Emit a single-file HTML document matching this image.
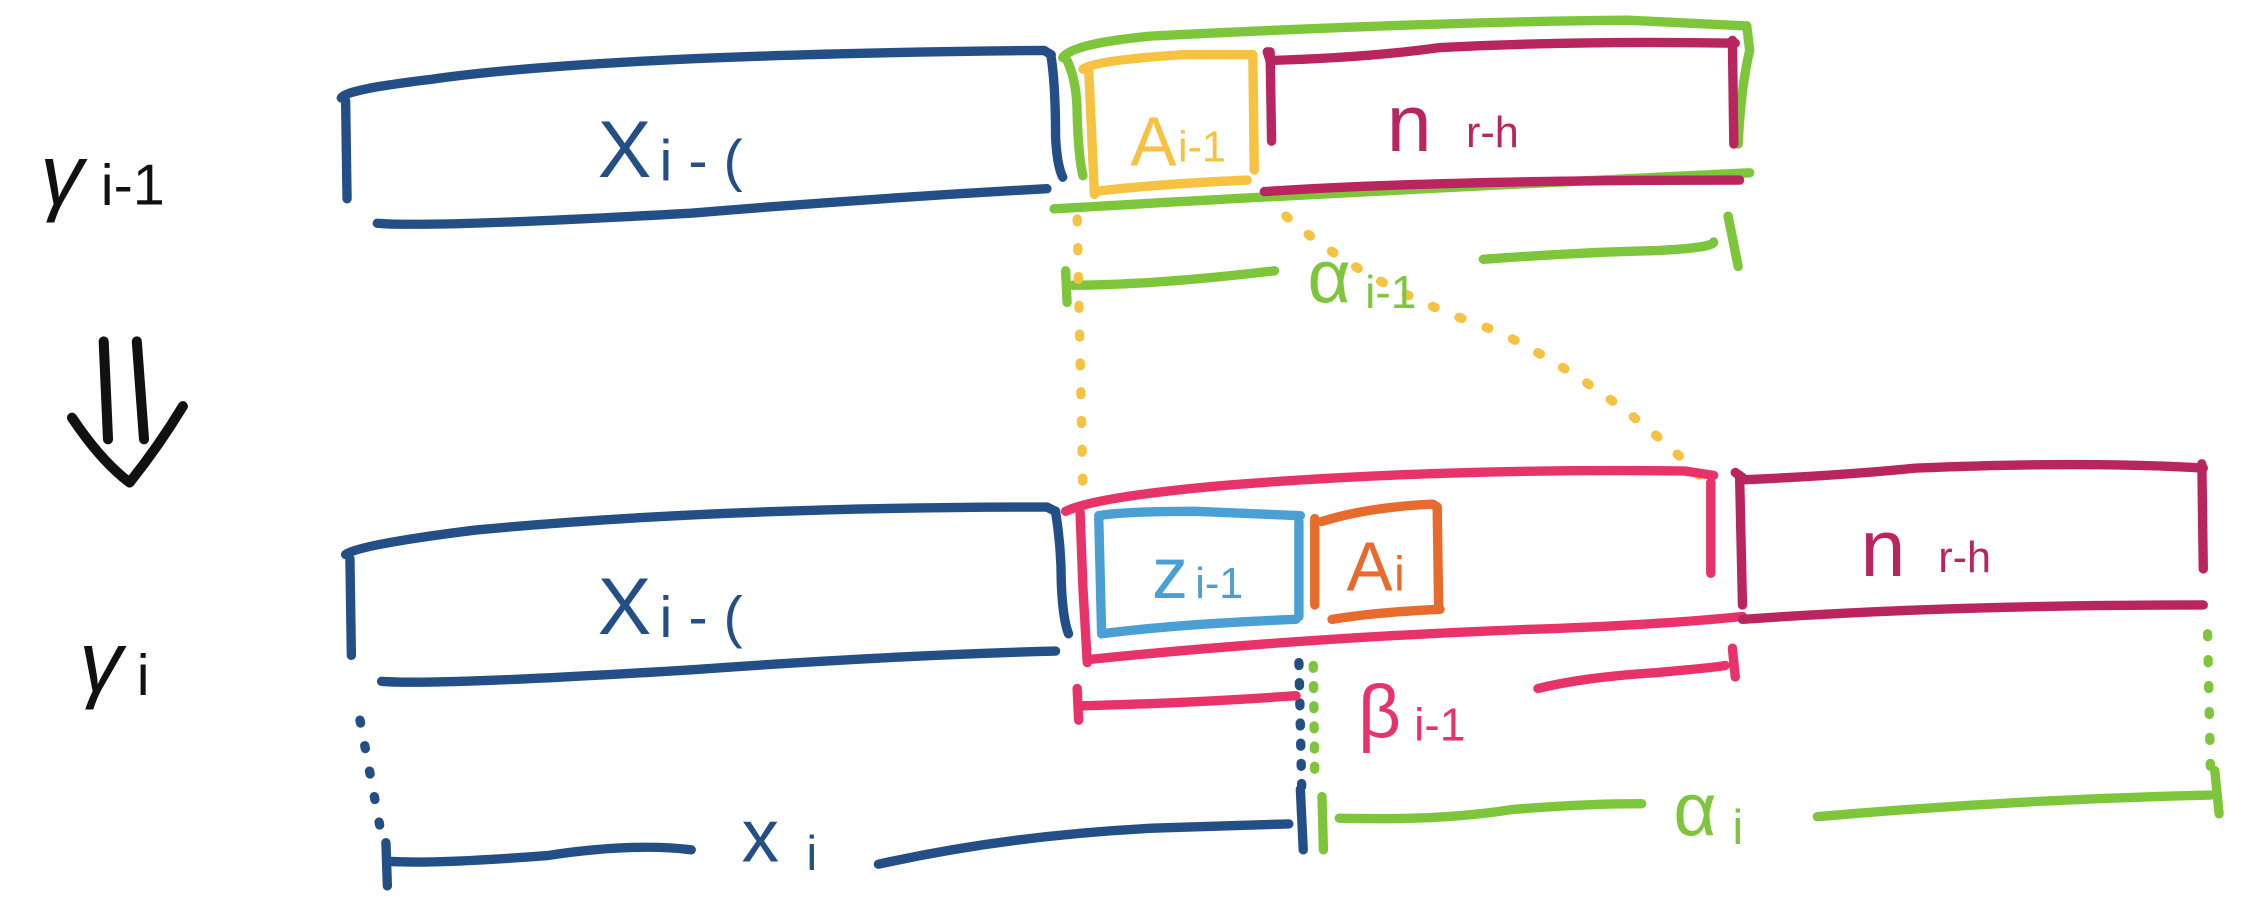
<!DOCTYPE html>
<html><head><meta charset="utf-8"><style>
html,body{margin:0;padding:0;background:#fff;}
svg{display:block}
text{font-family:"Liberation Sans",sans-serif;}
</style></head><body>
<svg width="2258" height="906" viewBox="0 0 1568 629" preserveAspectRatio="none" xmlns="http://www.w3.org/2000/svg">
<g fill="none" stroke-linecap="round" stroke-linejoin="round" stroke-width="6.5">
<g stroke="#234f86">
<path d="M237,68 Q240,62 300,55 Q420,38 725,35 L730,38"/>
<path d="M240,70 L241,138"/>
<path d="M262,155 Q300,158 480,148 Q600,138 727,131"/>
<path d="M730,40 Q733,60 733,95 Q734,115 738,123"/>
</g>
<g stroke="#7dc63c">
<path d="M738,40 Q745,30 800,25 Q1000,15 1130,14 L1213,18"/>
<path d="M1213,18 L1215,35 Q1209,60 1207,100"/>
<path d="M732,145 Q900,135 1215,120"/>
<path d="M740,40 Q748,55 748,80 Q749,110 752,122"/>
<path d="M740,188 L741,210"/>
<path d="M745,198 Q800,198 885,188"/>
<path d="M1030,180 Q1100,175 1150,174 Q1190,172 1190,168"/>
<path d="M1200,150 L1207,185"/>
</g>
<g stroke="#f5c242">
<path d="M752,48 Q760,42 820,38 L870,38"/>
<path d="M756,48 L760,135"/>
<path d="M870,40 L871,118"/>
<path d="M760,133 Q800,128 866,125"/>
<path d="M748,152 L752,340" stroke-dasharray="2 18"/>
<path d="M893,150 Q950,200 1040,230 Q1120,270 1180,330" stroke-dasharray="2 18"/>
</g>
<g stroke="#b8255f">
<path d="M880,36 L882,42 Q950,40 1000,33 Q1100,28 1205,30"/>
<path d="M882,36 L883,98"/>
<path d="M1203,28 L1204,100"/>
<path d="M878,133 Q1000,125 1208,125"/>
</g>
<g stroke="#234f86">
<path d="M240,385 Q250,378 330,368 Q500,352 727,352 L733,355"/>
<path d="M243,388 L244,455"/>
<path d="M265,473 Q300,476 480,465 Q620,455 733,452"/>
<path d="M733,355 Q737,380 737,405 Q738,430 742,440"/>
<path d="M250,500 L265,580" stroke-dasharray="2 16"/>
<path d="M902,460 L904,550" stroke-dasharray="2 12"/>
<path d="M268,585 L269,615"/>
<path d="M270,598 Q300,600 380,594 Q440,585 480,590"/>
<path d="M610,600 Q700,580 800,575 L895,572"/>
<path d="M903,548 L905,590"/>
</g>
<g stroke="#e8336a">
<path d="M740,355 Q760,345 850,337 Q1000,325 1170,327 L1190,330"/>
<path d="M750,355 L752,408 L755,460"/>
<path d="M755,458 Q900,443 1060,437 Q1150,434 1210,428"/>
<path d="M1188,335 L1188,398"/>
<path d="M748,478 L749,500"/>
<path d="M752,490 Q830,488 900,483"/>
<path d="M1068,478 Q1100,470 1150,467 Q1195,463 1198,462"/>
<path d="M1203,450 L1205,470"/>
</g>
<g stroke="#4a9fd4">
<path d="M763,358 Q780,355 830,355 L903,358"/>
<path d="M763,360 L765,440"/>
<path d="M902,362 L902,428"/>
<path d="M765,440 Q820,433 900,430"/>
</g>
<g stroke="#e66b2d">
<path d="M913,360 L913,420"/>
<path d="M918,362 Q950,352 995,350 L998,352"/>
<path d="M998,352 L999,420"/>
<path d="M925,430 Q955,425 1000,423"/>
</g>
<g stroke="#b8255f">
<path d="M1205,328 L1212,333 Q1280,330 1330,325 Q1450,320 1530,325"/>
<path d="M1208,330 L1210,420"/>
<path d="M1529,322 L1530,395"/>
<path d="M1210,430 Q1350,420 1530,420"/>
</g>
<g stroke="#7dc63c">
<path d="M912,462 L913,540" stroke-dasharray="2 12"/>
<path d="M1533,440 L1535,535" stroke-dasharray="2 16"/>
<path d="M918,553 L919,590"/>
<path d="M930,568 Q1000,570 1050,562 Q1100,558 1140,558"/>
<path d="M1262,567 Q1400,555 1535,552"/>
<path d="M1538,535 L1541,565"/>
</g>
<g stroke="#111" stroke-width="7">
<path d="M72,237 L75,305"/>
<path d="M95,237 L100,305"/>
<path d="M50,290 Q70,320 90,335 Q110,310 127,282"/>
</g>
</g>
<g font-size="52">
<text x="28" y="142" fill="#111" font-style="italic" font-size="60">γ</text>
<text x="70" y="142" fill="#111" font-size="40">i-1</text>
<text x="55" y="480" fill="#111" font-style="italic" font-size="60">γ</text>
<text x="95" y="482" fill="#111" font-size="40">i</text>
<text x="415" y="123" fill="#234f86" font-size="56">X</text><text x="458" y="125" fill="#234f86" font-size="40">i - (</text>
<text x="415" y="440" fill="#234f86" font-size="56">X</text><text x="458" y="442" fill="#234f86" font-size="40">i - (</text>
<text x="785" y="115" fill="#f5c242" font-size="48">A</text><text x="818" y="112" fill="#f5c242" font-size="30">i-1</text>
<text x="963" y="105" fill="#b8255f" font-size="56">n</text><text x="1018" y="102" fill="#b8255f" font-size="30">r-h</text>
<text x="800" y="415" fill="#4a9fd4" font-size="50">z</text><text x="830" y="415" fill="#4a9fd4" font-size="30">i-1</text>
<text x="935" y="410" fill="#e66b2d" font-size="48">A</text><text x="968" y="410" fill="#e66b2d" font-size="34">i</text>
<text x="1292" y="400" fill="#b8255f" font-size="56">n</text><text x="1346" y="397" fill="#b8255f" font-size="30">r-h</text>
<text x="908" y="210" fill="#7dc63c" font-size="52">α</text><text x="948" y="214" fill="#7dc63c" font-size="32">i-1</text>
<text x="943" y="512" fill="#e8336a" font-size="52">β</text><text x="982" y="514" fill="#e8336a" font-size="32">i-1</text>
<text x="515" y="598" fill="#234f86" font-size="52">x</text><text x="560" y="604" fill="#234f86" font-size="34">i</text>
<text x="1162" y="580" fill="#7dc63c" font-size="52">α</text><text x="1203" y="586" fill="#7dc63c" font-size="34">i</text>
</g>
</svg>
</body></html>
